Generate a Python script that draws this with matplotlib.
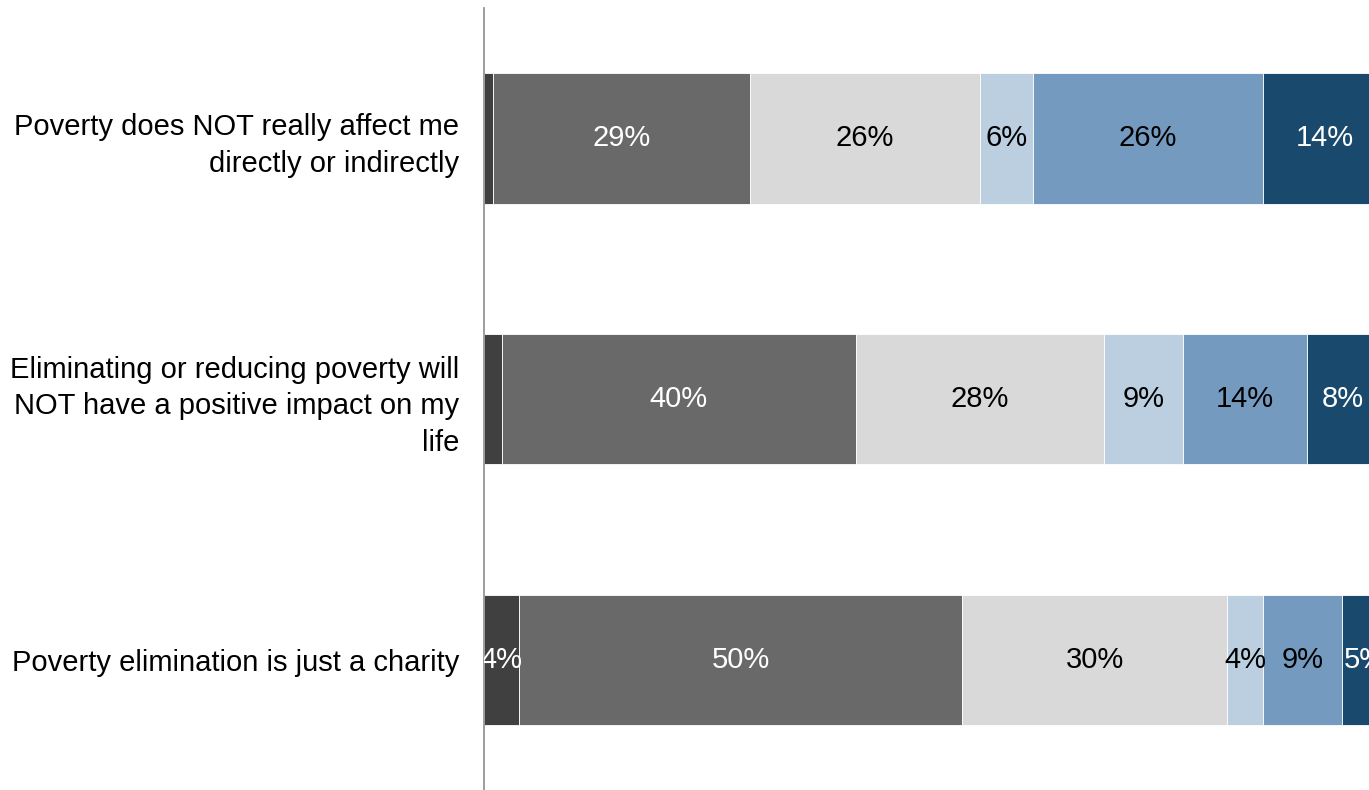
import matplotlib.pyplot as plt
import numpy as np

plt.rcParams['font.family'] = ['Liberation Sans', 'DejaVu Sans']

categories = [
    'Poverty does NOT really affect me\ndirectly or indirectly',
    'Eliminating or reducing poverty will\nNOT have a positive impact on my\nlife',
    'Poverty elimination is just a charity',
]
# segments from left to right, percent of respondents
seg1 = [1, 2, 4]
seg2 = [29, 40, 50]
seg3 = [26, 28, 30]
seg4 = [6, 9, 4]
seg5 = [26, 14, 9]
seg6 = [14, 8, 5]

colors = ['#404040', '#696969', '#d9d9d9', '#bccfe1', '#749bbf', '#194a6e']
text_colors = ['white', 'white', 'black', 'black', 'black', 'white']
min_label = [3, 0, 0, 0, 0, 0]  # first segment labels only shown when wide enough


def main():
    fig = plt.figure(figsize=(13.69, 7.9), dpi=100)
    ax = fig.add_axes([484 / 1369, 0, 885 / 1369, 782 / 790])

    segments = [seg1, seg2, seg3, seg4, seg5, seg6]
    y = np.arange(len(categories))
    left = np.zeros(len(categories))
    for i, vals in enumerate(segments):
        vals = np.array(vals, dtype=float)
        ax.barh(y, vals, left=left, height=0.5, color=colors[i],
                edgecolor='white', linewidth=0.6)
        for j in range(len(categories)):
            if vals[j] > min_label[i]:
                ax.text(left[j] + vals[j] / 2, y[j], '%d%%' % vals[j],
                        ha='center', va='center', fontsize=21,
                        color=text_colors[i], clip_on=True)
        left += vals

    ax.set_xlim(0, 100)
    ax.set_ylim(2.5, -0.5)
    ax.set_yticks(y)
    ax.set_yticklabels(categories, fontsize=21, linespacing=1.38)
    ax.tick_params(axis='y', length=0, pad=18)
    ax.set_xticks([])
    for s in ['top', 'right', 'bottom']:
        ax.spines[s].set_visible(False)
    ax.spines['left'].set_color('#8c8c8c')
    ax.spines['left'].set_linewidth(1.2)

    fig.savefig('out.png', dpi=100)


if __name__ == '__main__':
    main()
